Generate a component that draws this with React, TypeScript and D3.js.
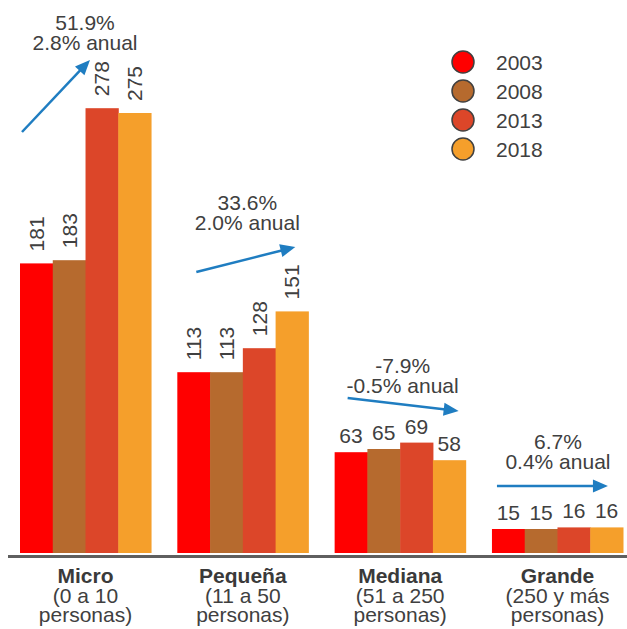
import React, { useEffect, useRef } from "react";
import * as d3 from "d3";

// chart data
const categories = ["Micro", "Pequeña", "Mediana", "Grande"];
const categoryRange = ["(0 a 10", "(11 a 50", "(51 a 250", "(250 y más"];
const categoryUnit = ["personas)", "personas)", "personas)", "personas)"];
const years = ["2003", "2008", "2013", "2018"];
const values2003 = [181, 113, 63, 15];
const values2008 = [183, 113, 65, 15];
const values2013 = [278, 128, 69, 16];
const values2018 = [275, 151, 58, 16];
const growthTotal = ["51.9%", "33.6%", "-7.9%", "6.7%"];
const growthAnnual = ["2.8% anual", "2.0% anual", "-0.5% anual", "0.4% anual"];

const series = [values2003, values2008, values2013, values2018];
const colors = ["#FF0000", "#B66A2E", "#DC4629", "#F59F2B"];

// annotation layout (relative to each group's left edge)
const arrowLayout = [
  { x1: 2, y1: 132, x2: 70, y2: 60, tx: 65, ty: 30 },
  { x1: 19, y1: 272, x2: 118, y2: 247, tx: 70, ty: 210 },
  { x1: 13, y1: 398, x2: 124, y2: 411, tx: 68, ty: 373 },
  { x1: 5, y1: 486, x2: 116, y2: 486, tx: 66, ty: 449 },
];

const W = 627;
const H = 629;
const FONT = "'Liberation Sans', Arial, sans-serif";
const TXT = "#404040";
const ARROW = "#1F7DC1";
const FS = "21px";

const App: React.FC = () => {
  const svgRef = useRef<SVGSVGElement>(null);

  useEffect(() => {
    if (!svgRef.current) return;
    const svg = d3.select(svgRef.current);
    svg.selectAll("*").remove();

    const baseY = 553;
    const x = d3.scaleBand<string>().domain(categories).range([20, 623]).paddingInner(0.167).paddingOuter(0);
    const xi = d3.scaleBand<string>().domain(years).range([0, x.bandwidth()]).padding(0);
    const y = d3.scaleLinear().domain([0, 300]).range([baseY, 73]);

    const g = svg.append("g").style("font-family", FONT);

    // bars + labels
    categories.forEach((cat, ci) => {
      const gx = x(cat)!;
      const rotate = d3.max(series, s => s[ci])! >= 100;
      years.forEach((yr, si) => {
        const v = series[si][ci];
        const bx = gx + xi(yr)!;
        g.append("rect")
          .attr("x", bx)
          .attr("y", y(v))
          .attr("width", xi.bandwidth() + 0.5)
          .attr("height", baseY - y(v))
          .attr("fill", colors[si]);
        const cx = bx + xi.bandwidth() / 2;
        if (rotate) {
          g.append("text")
            .attr("transform", `translate(${cx},${y(v) - 12}) rotate(-90)`)
            .attr("dy", "0.35em")
            .attr("text-anchor", "start")
            .attr("fill", TXT)
            .style("font-size", FS)
            .text(v);
        } else {
          g.append("text")
            .attr("x", cx)
            .attr("y", y(v) - 9)
            .attr("text-anchor", "middle")
            .attr("fill", TXT)
            .style("font-size", FS)
            .text(v);
        }
      });

      // category labels
      const mx = gx + x.bandwidth() / 2;
      g.append("text").attr("x", mx).attr("y", 583).attr("text-anchor", "middle")
        .attr("fill", "#3a3a3a").style("font-size", FS).style("font-weight", "bold").text(cat);
      g.append("text").attr("x", mx).attr("y", 603).attr("text-anchor", "middle")
        .attr("fill", TXT).style("font-size", FS).text(categoryRange[ci]);
      g.append("text").attr("x", mx).attr("y", 622).attr("text-anchor", "middle")
        .attr("fill", TXT).style("font-size", FS).text(categoryUnit[ci]);

      // growth annotation
      const a = arrowLayout[ci];
      const x1 = gx + a.x1, x2 = gx + a.x2;
      const ang = Math.atan2(a.y2 - a.y1, x2 - x1);
      const hl = 15, hw = 6.5;
      const bxh = x2 - hl * Math.cos(ang), byh = a.y2 - hl * Math.sin(ang);
      g.append("line")
        .attr("x1", x1).attr("y1", a.y1)
        .attr("x2", bxh + 2 * Math.cos(ang)).attr("y2", byh + 2 * Math.sin(ang))
        .attr("stroke", ARROW).attr("stroke-width", 2.5);
      const pts: [number, number][] = [
        [x2, a.y2],
        [bxh - hw * Math.sin(ang), byh + hw * Math.cos(ang)],
        [bxh + hw * Math.sin(ang), byh - hw * Math.cos(ang)],
      ];
      g.append("polygon").attr("points", pts.map(p => p.join(",")).join(" ")).attr("fill", ARROW);
      g.append("text").attr("x", gx + a.tx).attr("y", a.ty).attr("text-anchor", "middle")
        .attr("fill", TXT).style("font-size", FS).text(growthTotal[ci]);
      g.append("text").attr("x", gx + a.tx).attr("y", a.ty + 20).attr("text-anchor", "middle")
        .attr("fill", TXT).style("font-size", FS).text(growthAnnual[ci]);
    });

    // axis line
    g.append("line").attr("x1", 8).attr("x2", W).attr("y1", 556.5).attr("y2", 556.5)
      .attr("stroke", "#5f5f5f").attr("stroke-width", 3);

    // legend
    years.forEach((yr, i) => {
      const ly = 62 + i * 29;
      g.append("circle").attr("cx", 463).attr("cy", ly).attr("r", 11)
        .attr("fill", colors[i]).attr("stroke", "#404040").attr("stroke-width", 1.5);
      g.append("text").attr("x", 496).attr("y", ly).attr("dy", "0.36em")
        .attr("fill", TXT).style("font-size", FS).text(yr);
    });
  }, []);

  return (
    <svg
      ref={svgRef}
      width={W}
      height={H}
      style={{ position: "absolute", left: 0, top: 0, background: "#fff" }}
    />
  );
};

export default App;
